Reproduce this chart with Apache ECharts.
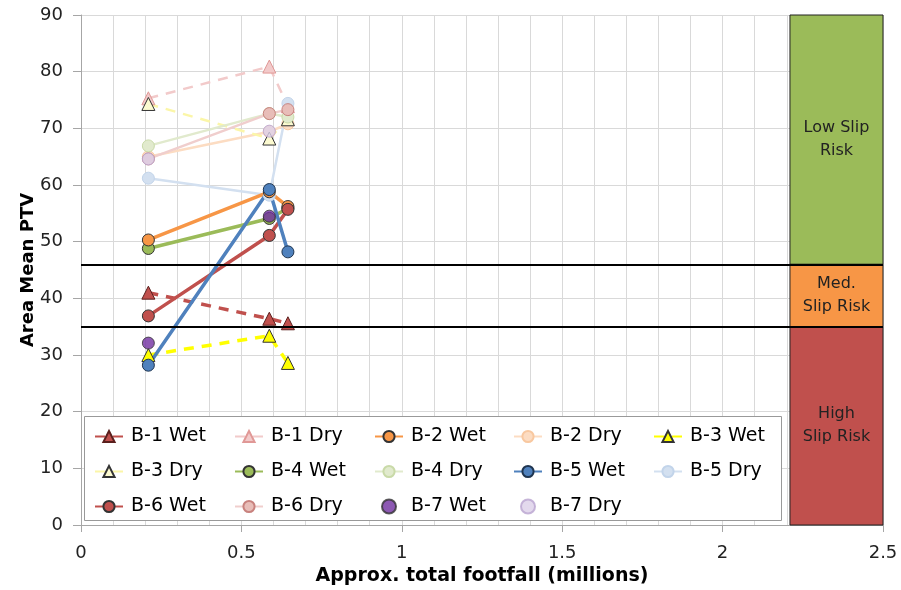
<!DOCTYPE html>
<html><head><meta charset="utf-8">
<script src="https://cdn.jsdelivr.net/npm/echarts@6/dist/echarts.min.js"></script>
<style>html,body{margin:0;padding:0;background:#fff}#c{width:901px;height:590px}</style>
</head><body><div id="c"></div>
<script>
const footfall = [0.21, 0.587, 0.645];
const b1Wet = [41.0, 36.4, 35.6];
const b1Dry = [75.3, 80.9, 73.9];
const b2Wet = [50.3, 58.8, 56.2];
const b2Dry = [65.0, 69.4, 70.8];
const b3Wet = [30.0, 33.4, 28.6];
const b3Dry = [74.3, 68.2, 71.6];
const b4Wet = [48.8, 54.1, 55.9];
const b4Dry = [66.9, 72.6, 72.0];
const b5Wet = [28.2, 59.2, 48.2];
const b5Dry = [61.2, 58.2, 74.4];
const b6Wet = [36.9, 51.1, 55.7];
const b6Dry = [64.6, 72.6, 73.3];
const b7Wet = [32.1, 54.5, null];
const b7Dry = [64.6, 69.5, null];
const riskNames = ['Low Slip\nRisk', 'Med.\nSlip Risk', 'High\nSlip Risk'];
const riskLow = [46, 35, 0];
const riskHigh = [90, 46, 35];
const riskXStart = 2.21;
const riskXEnd = 2.5;
const thresholds = [46, 35];
const xTicks = [0, 0.5, 1, 1.5, 2, 2.5];
const yTicks = [0, 10, 20, 30, 40, 50, 60, 70, 80, 90];

const FONT = 'DejaVu Sans';
function pts(arr){ return footfall.map((x,i)=>[x, arr[i]]).filter(p=>p[1]!==null); }

function lineS(name, data, color, sym, mFill, mBorder, dashed, width){
  return {
    name, type:'line', data: pts(data), symbol: sym, symbolSize: sym==='triangle'?13:12,
    lineStyle:{color, width: width, type: dashed?[10,8]:'solid'},
    itemStyle:{color: mFill, borderColor: mBorder, borderWidth: 1},
    emphasis:{disabled:true}, z: 3
  };
}
function scatS(name, data, fill, border){
  return {name, type:'scatter', data: pts(data), symbol:'circle', symbolSize:12,
    itemStyle:{color: fill, borderColor: border, borderWidth:1}, z:3};
}

const series = [
  lineS('B-1 Dry', b1Dry, '#F2CACA', 'triangle', '#F2CACA', '#E09896', true, 2.5),
  lineS('B-2 Dry', b2Dry, '#FCDCC2', 'circle', '#FCDCC2', '#F8C8A0', false, 2.5),
  lineS('B-3 Dry', b3Dry, '#FBF6A8', 'triangle', '#FCFAD0', '#333333', true, 2.5),
  lineS('B-4 Dry', b4Dry, '#E1EACD', 'circle', '#E1EACD', '#C9DAA8', false, 2.5),
  lineS('B-5 Dry', b5Dry, '#D3E0F0', 'circle', '#D3E0F0', '#C2D4EA', false, 2.5),
  lineS('B-6 Dry', b6Dry, '#F0CECD', 'circle', '#E8BDB8', '#C8827E', false, 2.5),
  scatS('B-7 Dry', b7Dry, '#DCD0E8', '#B9A4CF'),
  lineS('B-1 Wet', b1Wet, '#C0504D', 'triangle', '#C0504D', '#5a1f1d', true, 3.5),
  lineS('B-3 Wet', b3Wet, '#FFFF00', 'triangle', '#FFFF00', '#333333', true, 3.5),
  lineS('B-4 Wet', b4Wet, '#9BBB59', 'circle', '#9BBB59', '#333333', false, 3.5),
  lineS('B-2 Wet', b2Wet, '#F79646', 'circle', '#F79646', '#333333', false, 3.5),
  lineS('B-6 Wet', b6Wet, '#C0504D', 'circle', '#C0504D', '#333333', false, 3.5),
  scatS('B-7 Wet', b7Wet, '#7030A0', '#333333'),
  lineS('B-5 Wet', b5Wet, '#4F81BD', 'circle', '#4F81BD', '#1f3550', false, 3.5),
  {
    name:'risk', type:'line', data:[], silent:true, z:1,
    markArea:{silent:true,
      data: riskNames.map((n,i)=>[
        {name:n, xAxis:riskXStart, yAxis:riskLow[i],
          itemStyle:{color:['#9BBB59','#F79646','#C0504D'][i], borderColor:'#222', borderWidth:1}},
        {xAxis:riskXEnd, yAxis:riskHigh[i]}
      ]),
      label:{show:true, position:'inside', color:'#222', fontFamily:FONT, fontSize:16, lineHeight:23, align:'center'}
    },
    markLine:{silent:true, symbol:'none', label:{show:false},
      lineStyle:{color:'#000', width:2, type:'solid'},
      data: thresholds.map(t=>({yAxis:t}))
    }
  }
];

const cols = [
  ['B-1 Wet','B-3 Dry','B-6 Wet'],
  ['B-1 Dry','B-4 Wet','B-6 Dry'],
  ['B-2 Wet','B-4 Dry','B-7 Wet'],
  ['B-2 Dry','B-5 Wet','B-7 Dry'],
  ['B-3 Wet','B-5 Dry']
];
const colLeft = [94, 234, 374, 513, 653];
const legends = cols.map((c,i)=>({
  data: c, orient:'vertical', left: colLeft[i], top: 427, itemGap: 16, padding: 0,
  itemWidth: 28, itemHeight: 14, selectedMode:false, z: 10,
  textStyle:{fontFamily:FONT, fontSize:19, color:'#000', padding:[0,0,0,3]}
}));

const option = {
  animation:false,
  backgroundColor:'#fff',
  grid:{left:81, right:18, top:15, bottom:65, containLabel:false, outerBoundsMode:'none'},
  xAxis:{type:'value', min:0, max:2.5, interval:0.5,
    name:'Approx. total footfall (millions)', nameLocation:'middle', nameGap:42,
    nameMoveOverlap:false,
    nameTextStyle:{fontFamily:FONT, fontSize:19, fontWeight:'bold', color:'#000'},
    axisLine:{show:true, lineStyle:{color:'#A6A6A6'}},
    axisTick:{show:true, length:7, lineStyle:{color:'#A6A6A6'}},
    axisLabel:{fontFamily:FONT, fontSize:18, color:'#222', margin:19,
      formatter:v=>String(+v.toFixed(1))},
    splitLine:{show:true, lineStyle:{color:'#D9D9D9'}},
    minorTick:{show:false, splitNumber:5},
    minorSplitLine:{show:true, lineStyle:{color:'#D9D9D9'}}
  },
  yAxis:{type:'value', min:0, max:90, interval:10,
    name:'Area Mean PTV', nameLocation:'middle', nameGap:44,
    nameMoveOverlap:false,
    nameTextStyle:{fontFamily:FONT, fontSize:18, fontWeight:'bold', color:'#000'},
    axisLine:{show:true, lineStyle:{color:'#A6A6A6'}},
    axisTick:{show:true, length:8, lineStyle:{color:'#A6A6A6'}},
    axisLabel:{fontFamily:FONT, fontSize:18, color:'#222', margin:18},
    splitLine:{show:true, lineStyle:{color:'#D9D9D9'}}
  },
  legend: legends,
  graphic:[{type:'rect', left:84, top:416, z:5,
    shape:{width:697, height:104}, style:{fill:'#fff', stroke:'#999', lineWidth:1}}],
  series
};
const chart = echarts.init(document.getElementById('c'), null, {renderer:'canvas'});
chart.setOption(option);
</script></body></html>
